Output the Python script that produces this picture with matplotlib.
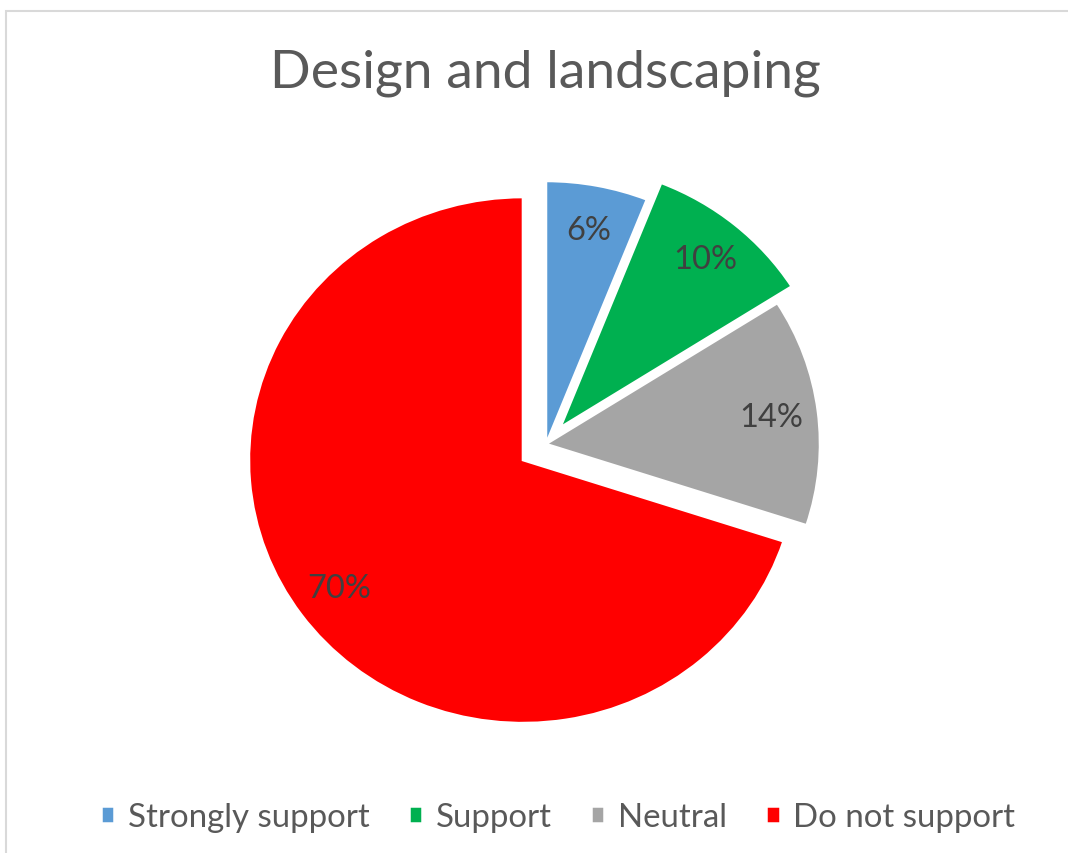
import matplotlib.pyplot as plt
from matplotlib.patches import Rectangle

categories = ["Strongly support", "Support", "Neutral", "Do not support"]
shares = [6, 10, 14, 70]
colors = ["#5B9BD5", "#00B050", "#A5A5A5", "#FF0000"]
explode = [0, 0.082, 0, 0.104]

W, H = 1068, 854
fig = plt.figure(figsize=(W / 100, H / 100), dpi=100)
ax = fig.add_axes([0, 0, 1, 1])

# pie centre in pixels; the chart is stretched a touch wider than tall
cx, cy = 546, 445
rx, ry = 274, 263

wedges, texts, autotexts = ax.pie(
    shares, colors=colors, explode=explode, startangle=90, counterclock=False,
    autopct="%.0f%%", pctdistance=0.83,
    wedgeprops=dict(edgecolor="white", linewidth=1.8),
    textprops=dict(color="#404040", fontsize=23.5, family="Lato"),
)
ax.set_aspect("auto")
ax.set_xlim(-cx / rx, (W - cx) / rx)
ax.set_ylim(-(H - cy) / ry, cy / ry)
ax.axis("off")

fig.text(545 / W, 1 - 73 / H, "Design and landscaping", ha="center", va="center",
         fontsize=38.5, color="#595959", family="Lato")

fig.legend(wedges, categories, loc="center", bbox_to_anchor=(558 / W, 1 - 818 / H),
           ncol=4, frameon=False, handlelength=0.4, handleheight=0.4,
           handletextpad=0.4, columnspacing=1.2, labelcolor="#595959",
           prop=dict(family="Lato", size=23.8))

# light chart-area border
fig.add_artist(Rectangle((6 / W, -0.1), 1.1, 1.1 - 12 / H, transform=fig.transFigure,
                         fill=False, edgecolor="#D9D9D9", linewidth=1.5))

fig.savefig("out.png", dpi=100)
